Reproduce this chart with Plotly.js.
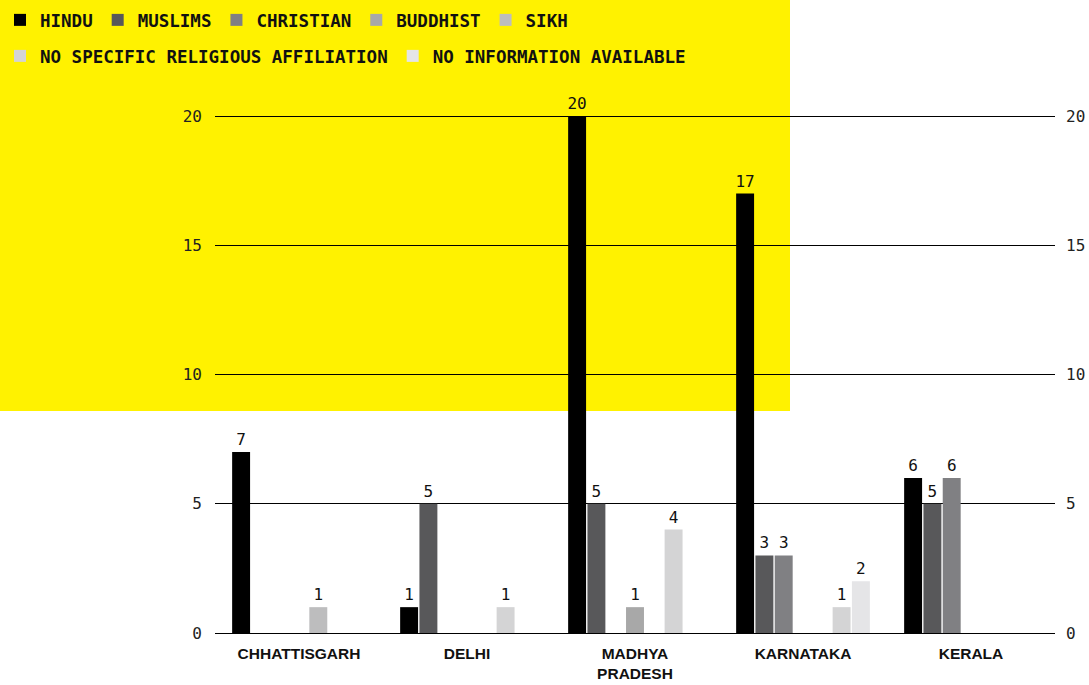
<!DOCTYPE html>
<html>
<head>
<meta charset="utf-8">
<script src="https://cdn.plot.ly/plotly-3.0.1.min.js"></script>
<style>
html,body{margin:0;padding:0;background:#fff;}
#chart{width:1089px;height:685px;}
</style>
</head>
<body>
<div id="chart"></div>
<script>
// ---- data ----
const states = ["CHHATTISGARH", "DELHI", "MADHYA<br>PRADESH", "KARNATAKA", "KERALA"];
const seriesNames = ["HINDU", "MUSLIMS", "CHRISTIAN", "BUDDHIST", "SIKH",
  "NO SPECIFIC RELIGIOUS AFFILIATION", "NO INFORMATION AVAILABLE"];
const hindu      = [7, 1, 20, 17, 6];
const muslims    = [0, 5, 5, 3, 5];
const christian  = [0, 0, 0, 3, 6];
const buddhist   = [0, 0, 1, 0, 0];
const sikh       = [1, 0, 0, 0, 0];
const noSpecific = [0, 1, 4, 1, 0];
const noInfo     = [0, 0, 0, 2, 0];
const yTicks = [0, 5, 10, 15, 20];

// ---- styles ----
const colors = ["#000000", "#58585a", "#808083", "#a8a8a8", "#bdbdbe", "#d4d4d5", "#e5e5e7"];
const seriesValues = [hindu, muslims, christian, buddhist, sikh, noSpecific, noInfo];
const monoFont = "'DejaVu Sans Mono', 'Liberation Mono', monospace";

const traces = seriesValues.map((vals, i) => ({
  type: "bar",
  name: seriesNames[i],
  x: states,
  y: vals,
  text: vals.map(v => (v ? String(v) : "")),
  textposition: "outside",
  constraintext: "none",
  cliponaxis: false,
  textfont: {family: monoFont, size: 16, color: "#111"},
  marker: {color: colors[i], line: {width: 0}},
  legend: i < 5 ? "legend" : "legend2",
  hoverinfo: "skip"
}));

// invisible trace to activate the mirrored right-hand axis
traces.push({
  type: "scatter", mode: "markers", x: states, y: hindu, yaxis: "y2",
  marker: {opacity: 0}, showlegend: false, hoverinfo: "skip"
});

const yCommon = {
  range: [0, 20.04],
  tickvals: yTicks,
  ticks: "",
  tickfont: {family: monoFont, size: 16, color: "#222"},
  fixedrange: true
};

const legendCommon = {
  orientation: "h",
  xref: "container", yref: "container",
  xanchor: "left", yanchor: "top",
  bgcolor: "rgba(0,0,0,0)",
  font: {family: monoFont, size: 17.5, color: "#111", weight: "bold"},
  itemclick: false, itemdoubleclick: false,
  traceorder: "normal"
};

const layout = {
  width: 1089, height: 685,
  margin: {l: 215, r: 34, t: 115, b: 52},
  paper_bgcolor: "#ffffff",
  plot_bgcolor: "rgba(0,0,0,0)",
  barmode: "group",
  bargap: 0.196,
  bargroupgap: 0.07,
  showlegend: true,
  legend: Object.assign({x: 0, y: 1 - 2 / 685}, legendCommon),
  legend2: Object.assign({x: 0, y: 1 - 38 / 685}, legendCommon),
  xaxis: {
    type: "category",
    showgrid: false, zeroline: false, showline: false,
    ticks: "",
    ticklabelstandoff: 9,
    tickfont: {family: "'Liberation Sans', Arial, sans-serif", size: 15.5, color: "#111", weight: "bold"},
    fixedrange: true
  },
  yaxis: Object.assign({
    side: "left",
    ticklabelstandoff: 12,
    showgrid: true, gridcolor: "#000", gridwidth: 1,
    zeroline: true, zerolinecolor: "#000", zerolinewidth: 1,
    showline: false
  }, yCommon),
  yaxis2: Object.assign({
    side: "right", overlaying: "y",
    ticklabelstandoff: 10,
    showgrid: false, zeroline: false, showline: false
  }, yCommon),
  shapes: [{
    type: "rect", xref: "paper", yref: "paper",
    x0: -215 / 840, x1: (790 - 215) / 840,
    y0: (633 - 411) / 518, y1: 633 / 518,
    fillcolor: "#fff200", line: {width: 0}, layer: "below"
  }]
};

Plotly.newPlot("chart", traces, layout, {displayModeBar: false, staticPlot: true});
</script>
</body>
</html>
